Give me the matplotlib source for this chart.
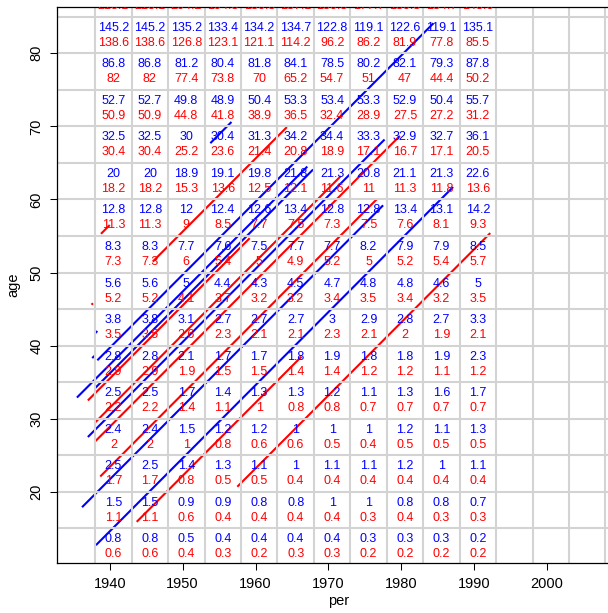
import matplotlib
matplotlib.use("Agg")
import matplotlib.pyplot as plt
import numpy as np

plt.rcParams['font.family'] = ['Liberation Sans', 'DejaVu Sans']

# period bands (left edge) and age bands (lower edge), 5-year wide
per_start = [1938, 1943, 1948, 1953, 1958, 1963, 1968, 1973, 1978, 1983, 1988]
age_start = [85, 80, 75, 70, 65, 60, 55, 50, 45, 40, 35, 30, 25, 20, 15, 10]

# rates, rows from oldest to youngest age band, blue then red
blue_rates = [
    [None] * 11,
    [145.2, 145.2, 135.2, 133.4, 134.2, 134.7, 122.8, 119.1, 122.6, 119.1, 135.1],
    [86.8, 86.8, 81.2, 80.4, 81.8, 84.1, 78.5, 80.2, 82.1, 79.3, 87.8],
    [52.7, 52.7, 49.8, 48.9, 50.4, 53.3, 53.4, 53.3, 52.9, 50.4, 55.7],
    [32.5, 32.5, 30, 30.4, 31.3, 34.2, 34.4, 33.3, 32.9, 32.7, 36.1],
    [20, 20, 18.9, 19.1, 19.8, 21.8, 21.3, 20.8, 21.1, 21.3, 22.6],
    [12.8, 12.8, 12, 12.4, 12.6, 13.4, 12.8, 12.8, 13.4, 13.1, 14.2],
    [8.3, 8.3, 7.7, 7.6, 7.5, 7.7, 7.7, 8.2, 7.9, 7.9, 8.5],
    [5.6, 5.6, 5, 4.4, 4.3, 4.5, 4.7, 4.8, 4.8, 4.6, 5],
    [3.8, 3.8, 3.1, 2.7, 2.7, 2.7, 3, 2.9, 2.8, 2.7, 3.3],
    [2.8, 2.8, 2.1, 1.7, 1.7, 1.8, 1.9, 1.8, 1.8, 1.9, 2.3],
    [2.5, 2.5, 1.7, 1.4, 1.3, 1.3, 1.2, 1.1, 1.3, 1.6, 1.7],
    [2.4, 2.4, 1.5, 1.2, 1.2, 1, 1, 1, 1.2, 1.1, 1.3],
    [2.5, 2.5, 1.4, 1.3, 1.1, 1, 1.1, 1.1, 1.2, 1, 1.1],
    [1.5, 1.5, 0.9, 0.9, 0.8, 0.8, 1, 1, 0.8, 0.8, 0.7],
    [0.8, 0.8, 0.5, 0.4, 0.4, 0.4, 0.4, 0.3, 0.3, 0.3, 0.2],
]
red_rates = [
    [215.1, 215.1, 204.2, 194.8, 186.8, 187.1, 180.3, 177.7, 180.8, 184.7, 148.6],
    [138.6, 138.6, 126.8, 123.1, 121.1, 114.2, 96.2, 86.2, 81.9, 77.8, 85.5],
    [82, 82, 77.4, 73.8, 70, 65.2, 54.7, 51, 47, 44.4, 50.2],
    [50.9, 50.9, 44.8, 41.8, 38.9, 36.5, 32.4, 28.9, 27.5, 27.2, 31.2],
    [30.4, 30.4, 25.2, 23.6, 21.4, 20.8, 18.9, 17.1, 16.7, 17.1, 20.5],
    [18.2, 18.2, 15.3, 13.6, 12.5, 12.1, 11.6, 11, 11.3, 11.8, 13.6],
    [11.3, 11.3, 9, 8.5, 7.7, 7.5, 7.3, 7.5, 7.6, 8.1, 9.3],
    [7.3, 7.3, 6, 5.4, 5, 4.9, 5.2, 5, 5.2, 5.4, 5.7],
    [5.2, 5.2, 4.1, 3.7, 3.2, 3.2, 3.4, 3.5, 3.4, 3.2, 3.5],
    [3.5, 3.5, 2.6, 2.3, 2.1, 2.1, 2.3, 2.1, 2, 1.9, 2.1],
    [2.9, 2.9, 1.9, 1.5, 1.5, 1.4, 1.4, 1.2, 1.2, 1.1, 1.2],
    [2.2, 2.2, 1.4, 1.1, 1, 0.8, 0.8, 0.7, 0.7, 0.7, 0.7],
    [2, 2, 1, 0.8, 0.6, 0.6, 0.5, 0.4, 0.5, 0.5, 0.5],
    [1.7, 1.7, 0.8, 0.5, 0.5, 0.4, 0.4, 0.4, 0.4, 0.4, 0.4],
    [1.1, 1.1, 0.6, 0.4, 0.4, 0.4, 0.4, 0.3, 0.4, 0.3, 0.3],
    [0.6, 0.6, 0.4, 0.3, 0.2, 0.3, 0.3, 0.2, 0.2, 0.2, 0.2],
]

# life lines: entry period, entry age, duration (years)
blue_entry = [1938.1, 1936.2, 1937.0, 1935.5, 1938.0, 1938.3, 1953.8, 1938.0, 1937.6]
blue_age = [12.7, 17.9, 27.5, 32.9, 34.2, 38.0, 67.7, 41.7, 38.3]
blue_dur = [49.0, 41.3, 40.7, 31.6, 29.9, 46.1, 2.9, 0.3, 0.3]

red_entry = [1957.5, 1943.7, 1945.9, 1938.0, 1938.7, 1938.0, 1937.0, 1937.5, 1938.8]
red_age = [20.7, 15.9, 51.5, 26.9, 22.1, 29.5, 32.5, 45.6, 55.3]
red_dur = [34.7, 22.6, 18.4, 41.8, 38.0, 33.7, 22.2, 0.2, 1.2]

grid_per = np.arange(1938, 2009, 5)
grid_age = np.arange(10, 91, 5)

fig = plt.figure(figsize=(6.08, 6.13), dpi=100)
ax = fig.add_axes([0.0938, 0.0816, 0.926, 0.907])
ax.set_xlim(1932.77, 2010)
ax.set_ylim(10.27, 86.33)

# life lines first, grid drawn over them
for e, a, d in zip(blue_entry, blue_age, blue_dur):
    ax.plot([e, e + d], [a, a + d], color='blue', lw=1.5, solid_capstyle='butt', zorder=1)
for e, a, d in zip(red_entry, red_age, red_dur):
    ax.plot([e, e + d], [a, a + d], color='red', lw=1.5, solid_capstyle='butt', zorder=1)

for p in grid_per:
    ax.axvline(p, color='#d3d3d3', lw=1.5, zorder=2)
for a in grid_age:
    ax.axhline(a, color='#d3d3d3', lw=1.5, zorder=2)

for i, a in enumerate(age_start):
    for j, p in enumerate(per_start):
        b = blue_rates[i][j]
        r = red_rates[i][j]
        if b is not None:
            ax.text(p + 2.5, a + 3.5, f"{b:g}", color='blue', fontsize=9,
                    ha='center', va='center', clip_on=True, zorder=3)
        if r is not None:
            ax.text(p + 2.5, a + 1.45, f"{r:g}", color='red', fontsize=9,
                    ha='center', va='center', clip_on=True, zorder=3)

ax.set_xticks([1940, 1950, 1960, 1970, 1980, 1990, 2000])
ax.set_yticks([20, 30, 40, 50, 60, 70, 80])
ax.tick_params(direction='out', length=5, width=0.75, labelsize=10.5, pad=5)
for lab in ax.get_yticklabels():
    lab.set_rotation(90)
    lab.set_va('center')
ax.set_xlabel('per', fontsize=10.5, labelpad=2)
ax.set_ylabel('age', fontsize=10.5, labelpad=6)
for s in ax.spines.values():
    s.set_linewidth(0.9)

fig.savefig('out.png', dpi=100)
